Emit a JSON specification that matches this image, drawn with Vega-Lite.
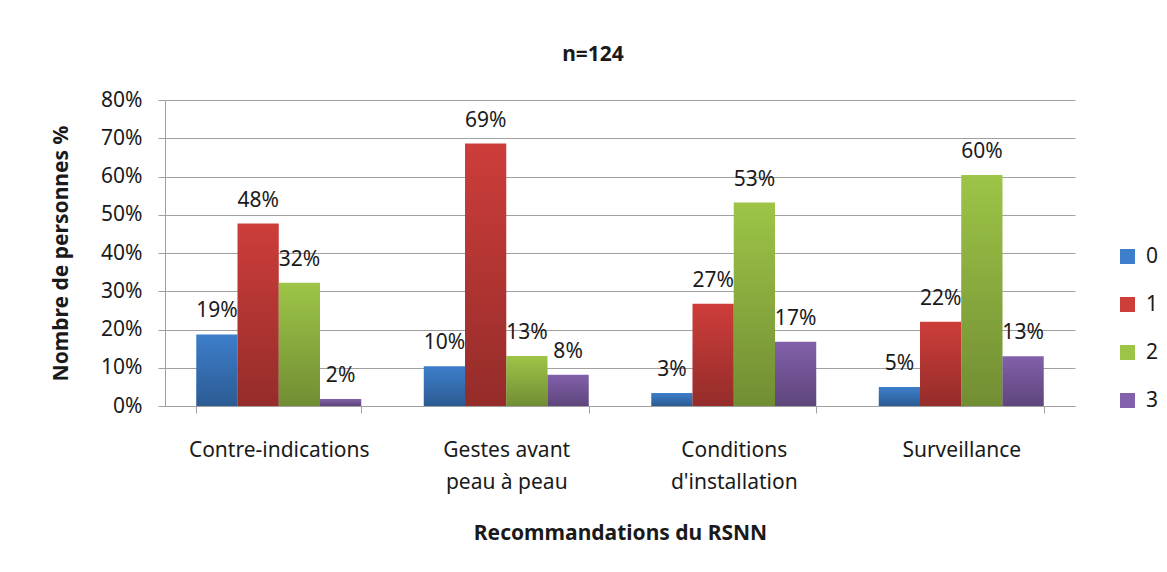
{
  "$schema": "https://vega.github.io/schema/vega-lite/v6.json",
  "autosize": {"type": "none"},
  "width": 910,
  "height": 306,
  "padding": {"left": 165, "top": 100, "right": 92, "bottom": 166},
  "background": "white",
  "title": {"text": "n=124", "fontSize": 21, "fontWeight": "bold", "font": "Noto Sans", "color": "#1a1a1a", "offset": 24, "frame": "group", "anchor": "middle", "dx": -27},
  "data": {"values": [
    {"cat": "Contre-indications", "serie": "0", "v": 0.187},
    {"cat": "Contre-indications", "serie": "1", "v": 0.477},
    {"cat": "Contre-indications", "serie": "2", "v": 0.322},
    {"cat": "Contre-indications", "serie": "3", "v": 0.018},
    {"cat": "Gestes avant peau à peau", "serie": "0", "v": 0.104},
    {"cat": "Gestes avant peau à peau", "serie": "1", "v": 0.686},
    {"cat": "Gestes avant peau à peau", "serie": "2", "v": 0.131},
    {"cat": "Gestes avant peau à peau", "serie": "3", "v": 0.082},
    {"cat": "Conditions d'installation", "serie": "0", "v": 0.034},
    {"cat": "Conditions d'installation", "serie": "1", "v": 0.267},
    {"cat": "Conditions d'installation", "serie": "2", "v": 0.532},
    {"cat": "Conditions d'installation", "serie": "3", "v": 0.168},
    {"cat": "Surveillance", "serie": "0", "v": 0.050},
    {"cat": "Surveillance", "serie": "1", "v": 0.220},
    {"cat": "Surveillance", "serie": "2", "v": 0.604},
    {"cat": "Surveillance", "serie": "3", "v": 0.130}
  ]},
  "encoding": {
    "x": {
      "field": "cat", "type": "nominal",
      "sort": ["Contre-indications", "Gestes avant peau à peau", "Conditions d'installation", "Surveillance"],
      "scale": {"paddingInner": 0.275, "paddingOuter": 0.1375},
      "axis": {
        "labelAngle": 0,
        "labelLimit": 0,
        "tickBand": "extent",
        "tickSize": 7,
        "tickColor": "#a0a0a0",
        "domainColor": "#a0a0a0",
        "labelFont": "Noto Sans",
        "labelFontSize": 21,
        "labelColor": "#1a1a1a",
        "labelPadding": 26,
        "labelLineHeight": 32,
        "labelExpr": "datum.label == 'Gestes avant peau à peau' ? ['Gestes avant', 'peau à peau'] : datum.label == \"Conditions d'installation\" ? ['Conditions', \"d'installation\"] : datum.label",
        "title": "Recommandations du RSNN",
        "titleFont": "Noto Sans",
        "titleFontSize": 21,
        "titleFontWeight": "bold",
        "titleColor": "#1a1a1a",
        "titlePadding": 30
      }
    },
    "xOffset": {"field": "serie", "type": "nominal", "scale": {"paddingInner": 0, "paddingOuter": 0}},
    "y": {
      "field": "v", "type": "quantitative",
      "scale": {"domain": [0, 0.8], "nice": false},
      "axis": {
        "values": [0, 0.1, 0.2, 0.3, 0.4, 0.5, 0.6, 0.7, 0.8],
        "format": ".0%",
        "grid": true,
        "gridColor": "#a0a0a0",
        "gridWidth": 1.2,
        "domainColor": "#a0a0a0",
        "tickColor": "#a0a0a0",
        "tickSize": 7,
        "labelFont": "Noto Sans",
        "labelFontSize": 21,
        "labelColor": "#1a1a1a",
        "labelPadding": 16,
        "title": "Nombre de personnes %",
        "titleFont": "Noto Sans",
        "titleFontSize": 21,
        "titleFontWeight": "bold",
        "titleColor": "#1a1a1a",
        "titlePadding": 29
      }
    }
  },
  "layer": [
    {
      "mark": {"type": "bar"},
      "encoding": {
        "color": {
          "field": "serie", "type": "nominal",
          "scale": {"domain": ["0", "1", "2", "3"], "range": ["#3d7ecb", "#cd3d3a", "#9dc447", "#8260aa"]},
          "legend": {
            "title": null,
            "orient": "none",
            "legendX": 952,
            "legendY": 146,
            "symbolType": "square",
            "symbolSize": 225,
            "symbolStrokeWidth": 0,
            "labelFont": "Noto Sans",
            "labelFontSize": 21,
            "labelColor": "#1a1a1a",
            "labelOffset": 8,
            "rowPadding": 26,
            "padding": 0
          }
        }
      }
    },
    {
      "mark": {
        "type": "bar",
        "color": {"gradient": "linear", "x1": 0, "y1": 0, "x2": 0, "y2": 1,
          "stops": [{"offset": 0, "color": "rgba(0,0,0,0)"}, {"offset": 1, "color": "rgba(0,0,0,0.28)"}]}
      }
    },
    {
      "mark": {"type": "text", "dy": -17, "baseline": "alphabetic", "align": "center", "fontSize": 21, "font": "Noto Sans", "color": "#1a1a1a"},
      "encoding": {"text": {"field": "v", "type": "quantitative", "format": ".0%"}}
    }
  ],
  "config": {"view": {"stroke": null}}
}
